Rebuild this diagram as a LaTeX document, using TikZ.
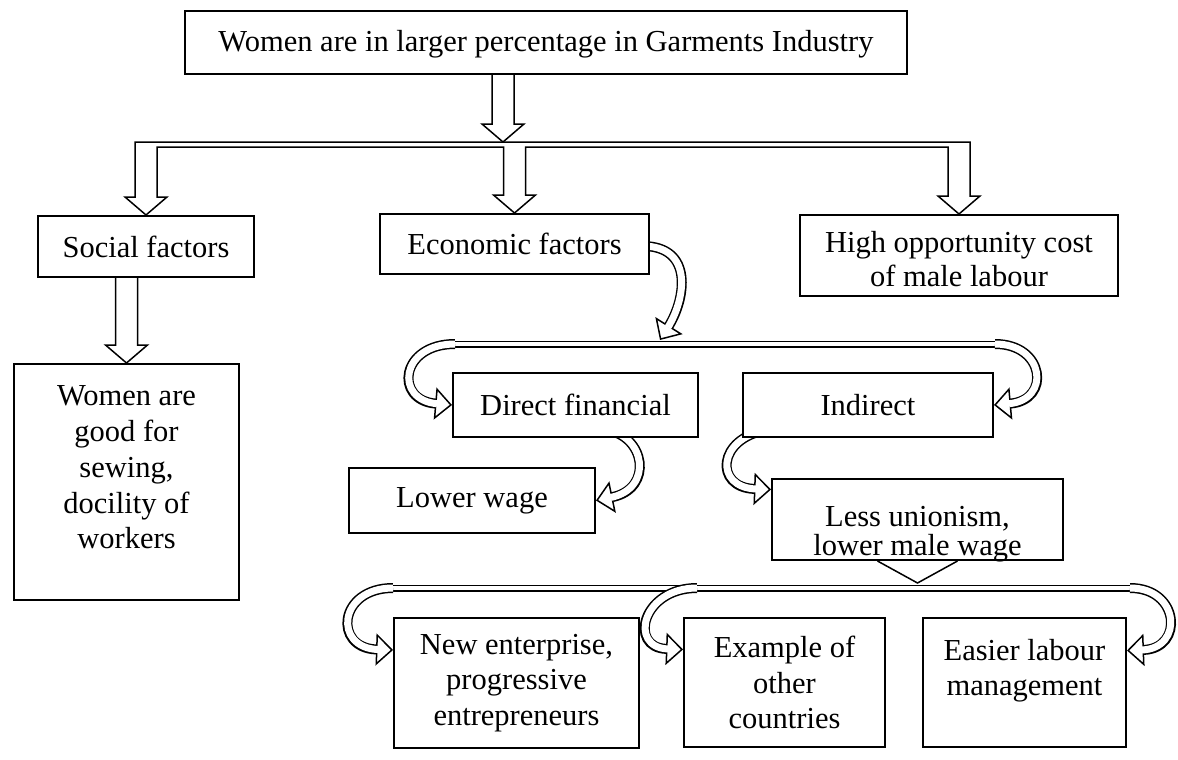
\documentclass[tikz,border=0pt]{standalone}
\usepackage{fontspec}
\setmainfont{Liberation Serif}
\usetikzlibrary{calc,arrows.meta,backgrounds}

\tikzset{
  box/.style={draw, line width=2pt, fill=white, inner sep=0pt},
  blk/.style={line width=1.5pt, fill=white},
  band/.style={line width=10pt, -{Triangle[length=17pt,width=32pt,line width=1.5pt,fill=white]}},
  bandin/.style={white, line width=7pt, shorten >=15pt},
  bus/.style={line width=1.5pt, double=white, double distance=4pt}
}

% head of a hollow block arrow pointing down at #1
\newcommand{\downhead}[1]{-- ($(#1)+(11,-18)$) -- ($(#1)+(21,-18)$) -- (#1) -- ($(#1)+(-21,-18)$) -- ($(#1)+(-11,-18)$)}
% curved hollow arrow: outline first, then white core
\newcommand{\bendarrow}[1]{\draw[band] #1; \draw[bandin] #1;}
% text of a box: width, height, position, text
\newcommand{\boxtext}[4]{\parbox[c][#2][#3]{#1}{\centering #4}}

\begin{document}
\begin{tikzpicture}[
            x = 1pt, y = -1pt, % pixel units, y downwards
            font = \fontsize{30.5}{35.7}\selectfont
        ]
\useasboundingbox (0,0) rectangle (1178,760);

\node[box] (headline) at (546,42.5) {\boxtext{722pt}{63pt}{c}{\vspace*{3pt}Women are in larger percentage in Garments Industry}};
\node[box] (social) at (146,246.5) {\boxtext{216pt}{61pt}{c}{Social factors}};
\node[box] (econ) at (514.5,244) {\boxtext{269pt}{60pt}{c}{Economic factors}};
\node[box] (highcost) at (959,255.5) {\boxtext{318pt}{81pt}{t}{\vspace*{16pt}\fontsize{30.5}{34}\selectfont High opportunity cost\\of male labour}};
\node[box] (sewing) at (126.5,482) {\boxtext{225pt}{236pt}{t}{\vspace*{22pt}Women are\\good for\\sewing,\\docility of\\workers}};
\node[box] (direct) at (575.5,405) {\boxtext{245pt}{64pt}{c}{Direct financial}};
\node[box] (indirect) at (868,405) {\boxtext{250pt}{64pt}{c}{Indirect}};
\node[box] (lowwage) at (472,500.5) {\boxtext{246pt}{65pt}{c}{Lower wage}};
\node[box] (unionism) at (917.5,519.5) {\boxtext{291pt}{81pt}{t}{\vspace*{27pt}\fontsize{30.5}{29}\selectfont Less unionism,\\lower male wage}};
\node[box] (newent) at (516.5,683) {\boxtext{245pt}{130pt}{c}{New enterprise,\\progressive\\entrepreneurs}};
\node[box] (example) at (784.5,682.5) {\boxtext{201pt}{129pt}{c}{Example of\\other\\countries}};
\node[box] (easier) at (1024.5,682.5) {\boxtext{203pt}{129pt}{t}{\vspace*{21pt}Easier labour\\management}};

\coordinate (bus1) at (503,142);
\coordinate (b2l) at (455,344);
\coordinate (b2r) at (995,344);
\coordinate (b2in) at (660,340);
\coordinate (b3l) at (393,588);
\coordinate (b3m) at (697,588);
\coordinate (b3r) at (1130,588);

\begin{scope}[on background layer]
% first level: bar with three arrows
\draw[blk] ($(social.north |- bus1)+(-11,0)$) -- ($(highcost.north |- bus1)+(11,0)$)
  \downhead{highcost.north} -- ($(highcost.north |- bus1)+(-11,5)$)
  -- ($(econ.north |- bus1)+(11,5)$) \downhead{econ.north} -- ($(econ.north |- bus1)+(-11,5)$)
  -- ($(social.north |- bus1)+(11,5)$) \downhead{social.north} -- cycle;
\draw[blk] ($(headline.south -| bus1)+(11,0)$) \downhead{bus1} -- ($(headline.south -| bus1)+(-11,0)$);
\draw[blk] ($(social.south -| sewing.north)+(11,0)$) \downhead{sewing.north} -- ($(social.south -| sewing.north)+(-11,0)$);
\draw[blk] ($(unionism.south)+(-40,0)$) -- ($(unionism.south)+(0,22)$) -- ($(unionism.south)+(40,0)$);

% second and third level bars
\draw[bus] (b2l) -- (b2r);
\draw[bus] (b3l) -- (b3r);

\bendarrow{([xshift=-8pt,yshift=-2pt]econ.east) .. controls +(53,0) and +(25,-40) .. (b2in)}
\bendarrow{(b2l) .. controls +(-55,0) and +(-58,-5) .. (direct.west)}
\bendarrow{(b2r) .. controls +(50,0) and +(57,-5) .. (indirect.east)}
\bendarrow{([xshift=30pt,yshift=8pt]direct.south) .. controls +(40,5) and +(58,-12) .. (lowwage.east)}
\bendarrow{([xshift=25pt,yshift=8pt]indirect.south west) .. controls +(-50,8) and +(-57,-2) .. ([yshift=30pt]unionism.west)}
\bendarrow{(b3l) .. controls +(-55,0) and +(-60,-2) .. ([yshift=33pt]newent.west)}
\bendarrow{(b3m) .. controls +(-55,0) and +(-55,-2) .. ([yshift=33pt]example.west)}
\bendarrow{(b3r) .. controls +(50,0) and +(57,-2) .. ([yshift=32pt]easier.east)}
\end{scope}
\end{tikzpicture}
\end{document}
